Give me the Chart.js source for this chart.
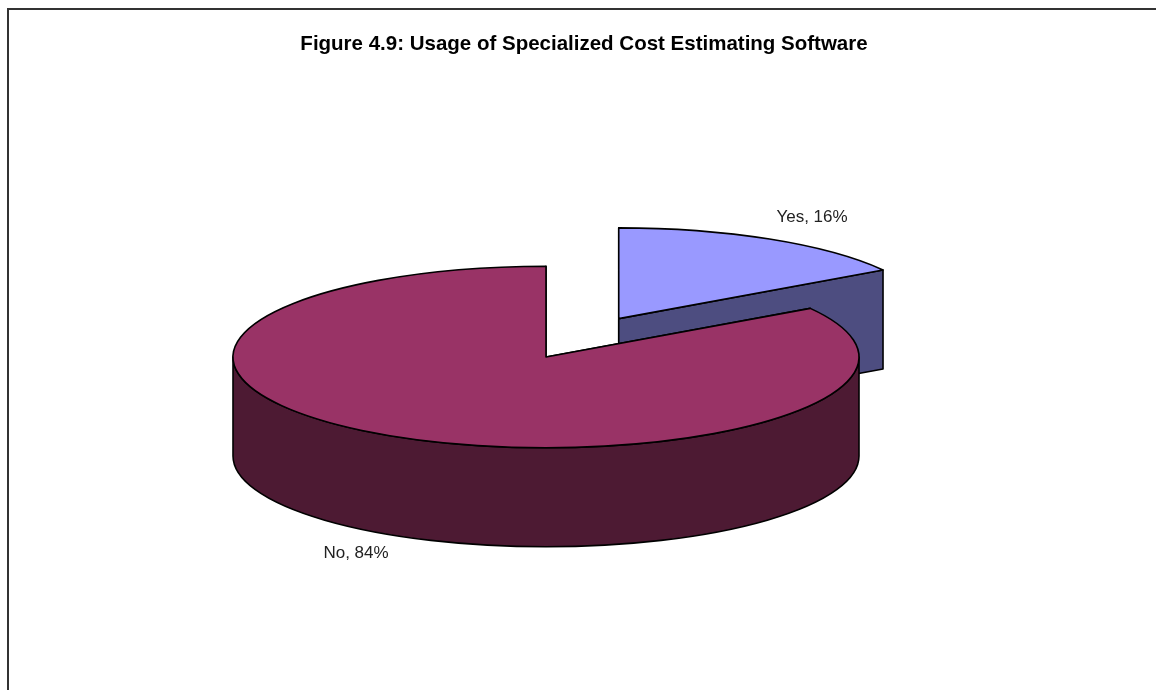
<!DOCTYPE html>
<html>
<head>
<meta charset="utf-8">
<script src="https://cdn.jsdelivr.net/npm/chart.js@4"></script>
<style>
  html, body { margin: 0; padding: 0; background: #fff; overflow: hidden; }
  #frame { position: absolute; left: 7px; top: 8px; width: 1200px; height: 800px; border: 2px solid #333; box-sizing: border-box; }
  canvas { position: absolute; left: 0; top: 0; }
</style>
</head>
<body>
<div id="frame"></div>
<canvas id="grafica" width="1156" height="690"></canvas>
<script>
const categories = ['Yes', 'No'];
const percents = [16, 84];
const topColors = ['#9999ff', '#993366'];
const sideColors = ['#4d4d80', '#4d1a33'];
const chartTitle = 'Figure 4.9: Usage of Specialized Cost Estimating Software';

const tilt = 0.29;       // vertical squash of the pie
const depth = 99;        // height of the wall in px
const explode = [151, 0];
const pieShift = -38;    // the title is centred on the frame, the pie sits left of that
const labelPos = [[812, 217], [356, 553]];

function pathTop(ctx, arc, dx, dy) {
    // build under the squash, stroke afterwards so the line keeps its width
    ctx.save();
    ctx.translate(arc.x + dx, arc.y + dy);
    ctx.scale(1, tilt);
    ctx.beginPath();
    ctx.moveTo(0, 0);
    ctx.arc(0, 0, arc.outerRadius, arc.startAngle, arc.endAngle);
    ctx.closePath();
    ctx.restore();
}

function drawFace(ctx, arc, angle, dx, dy) {
    const ex = arc.x + dx + Math.cos(angle) * arc.outerRadius;
    const ey = arc.y + dy + Math.sin(angle) * arc.outerRadius * tilt;
    ctx.beginPath();
    ctx.moveTo(arc.x + dx, arc.y + dy);
    ctx.lineTo(ex, ey);
    ctx.lineTo(ex, ey + depth);
    ctx.lineTo(arc.x + dx, arc.y + dy + depth);
    ctx.closePath();
    ctx.fill();
    ctx.stroke();
}

function drawOuterWall(ctx, arc, dx, dy) {
    // only the part facing the viewer, canvas angles 0 to PI
    const from = Math.max(arc.startAngle, 0);
    const to = Math.min(arc.endAngle, Math.PI);
    if (to <= from) return;
    ctx.save();
    ctx.translate(arc.x + dx, arc.y + dy);
    ctx.beginPath();
    ctx.save();
    ctx.scale(1, tilt);
    ctx.arc(0, 0, arc.outerRadius, from, to);
    ctx.restore();
    ctx.save();
    ctx.translate(0, depth);
    ctx.scale(1, tilt);
    ctx.arc(0, 0, arc.outerRadius, to, from, true);
    ctx.restore();
    ctx.closePath();
    ctx.fill();
    ctx.stroke();
    ctx.restore();
}

const pie3d = {
    id: 'pie3d',
    beforeDatasetsDraw(chart) {
        const ctx = chart.ctx;
        const arcs = chart.getDatasetMeta(0).data;
        ctx.save();
        ctx.lineWidth = 1.6;
        ctx.strokeStyle = '#000';
        ctx.lineJoin = 'round';
        arcs.forEach((arc, i) => {
            const mid = (arc.startAngle + arc.endAngle) / 2;
            const dx = Math.cos(mid) * explode[i] + pieShift;
            const dy = Math.sin(mid) * explode[i] * tilt;
            ctx.fillStyle = sideColors[i];
            drawFace(ctx, arc, arc.startAngle, dx, dy);
            drawFace(ctx, arc, arc.endAngle, dx, dy);
            drawOuterWall(ctx, arc, dx, dy);
            pathTop(ctx, arc, dx, dy);
            ctx.fillStyle = topColors[i];
            ctx.fill();
            ctx.stroke();
        });
        ctx.fillStyle = '#222';
        ctx.font = '17px "Liberation Sans"';
        ctx.textAlign = 'center';
        ctx.textBaseline = 'middle';
        categories.forEach((name, i) => {
            ctx.fillText(name + ', ' + percents[i] + '%', labelPos[i][0], labelPos[i][1]);
        });
        ctx.restore();
        return false;
    }
};

new Chart(document.getElementById('grafica').getContext('2d'), {
    type: 'pie',
    data: {
        labels: categories,
        datasets: [{ data: percents, backgroundColor: topColors, radius: 313, borderWidth: 0 }]
    },
    options: {
        responsive: false,
        animation: false,
        layout: { padding: { left: 12, right: 0, top: 0, bottom: 32.6 } },
        plugins: {
            legend: { display: false },
            tooltip: { enabled: false },
            title: {
                display: true,
                text: chartTitle,
                color: '#000',
                font: { family: '"Liberation Sans"', size: 20.5, weight: 'bold' },
                padding: { top: 32, bottom: 0 }
            }
        }
    },
    plugins: [pie3d]
});
</script>
</body>
</html>
